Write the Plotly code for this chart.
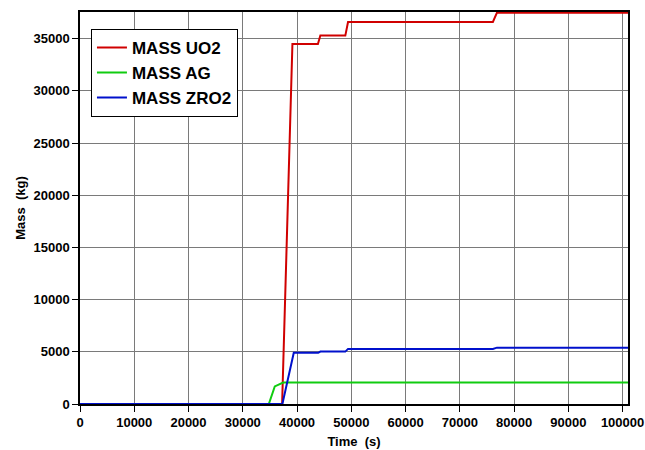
import plotly.graph_objects as go

# Time (s) and mass (kg)
t_uo2 = [0, 37250, 39150, 43850, 44300, 48900, 49400, 76100, 76850, 101000]
m_uo2 = [0, 0, 34500, 34500, 35300, 35300, 36600, 36600, 37500, 37500]

t_ag = [0, 34800, 35900, 37450, 101000]
m_ag = [0, 0, 1680, 2060, 2060]

t_zro2 = [0, 37300, 39400, 43900, 44300, 48900, 49400, 76100, 76850, 101000]
m_zro2 = [0, 0, 4900, 4900, 5020, 5020, 5280, 5280, 5400, 5400]

x_ticks = [0, 10000, 20000, 30000, 40000, 50000, 60000, 70000, 80000, 90000, 100000]
y_ticks = [0, 5000, 10000, 15000, 20000, 25000, 30000, 35000]

FONT = "Liberation Sans"

fig = go.Figure()
fig.add_trace(go.Scatter(x=t_uo2, y=m_uo2, mode="lines", name="MASS UO2",
                         line=dict(color="#d00000", width=2)))
fig.add_trace(go.Scatter(x=t_ag, y=m_ag, mode="lines", name="MASS AG",
                         line=dict(color="#10cc10", width=2)))
fig.add_trace(go.Scatter(x=t_zro2, y=m_zro2, mode="lines", name="MASS ZRO2",
                         line=dict(color="#0010cc", width=2)))

axis_common = dict(
    showline=True, linecolor="black", linewidth=1.5, mirror=True,
    showgrid=True, gridcolor="#7a7a7a", gridwidth=1,
    ticks="outside", ticklen=6, tickcolor="black",
    tickfont=dict(family=FONT, size=13, color="black", weight="bold"),
    zeroline=False, automargin=False,
)

fig.update_layout(
    width=645, height=450,
    margin=dict(l=80, r=17, t=12, b=46),
    plot_bgcolor="white", paper_bgcolor="white",
    showlegend=True,
    legend=dict(
        x=0.02, y=0.957, xanchor="left", yanchor="top",
        bgcolor="white", bordercolor="black", borderwidth=1,
        font=dict(family=FONT, size=17, color="black", weight="bold"),
        itemwidth=30, tracegroupgap=0,
    ),
    xaxis=dict(axis_common, range=[0, 101000], tickvals=x_ticks,
               ticktext=[str(v) for v in x_ticks],
               title=dict(text="Time  (s)", standoff=8,
                          font=dict(family=FONT, size=13, color="black", weight="bold"))),
    yaxis=dict(axis_common, range=[0, 37560], tickvals=y_ticks,
               ticktext=[str(v) for v in y_ticks],
               title=dict(text="Mass  (kg)", standoff=5,
                          font=dict(family=FONT, size=13, color="black", weight="bold"))),
)

fig.write_html("out.html")
